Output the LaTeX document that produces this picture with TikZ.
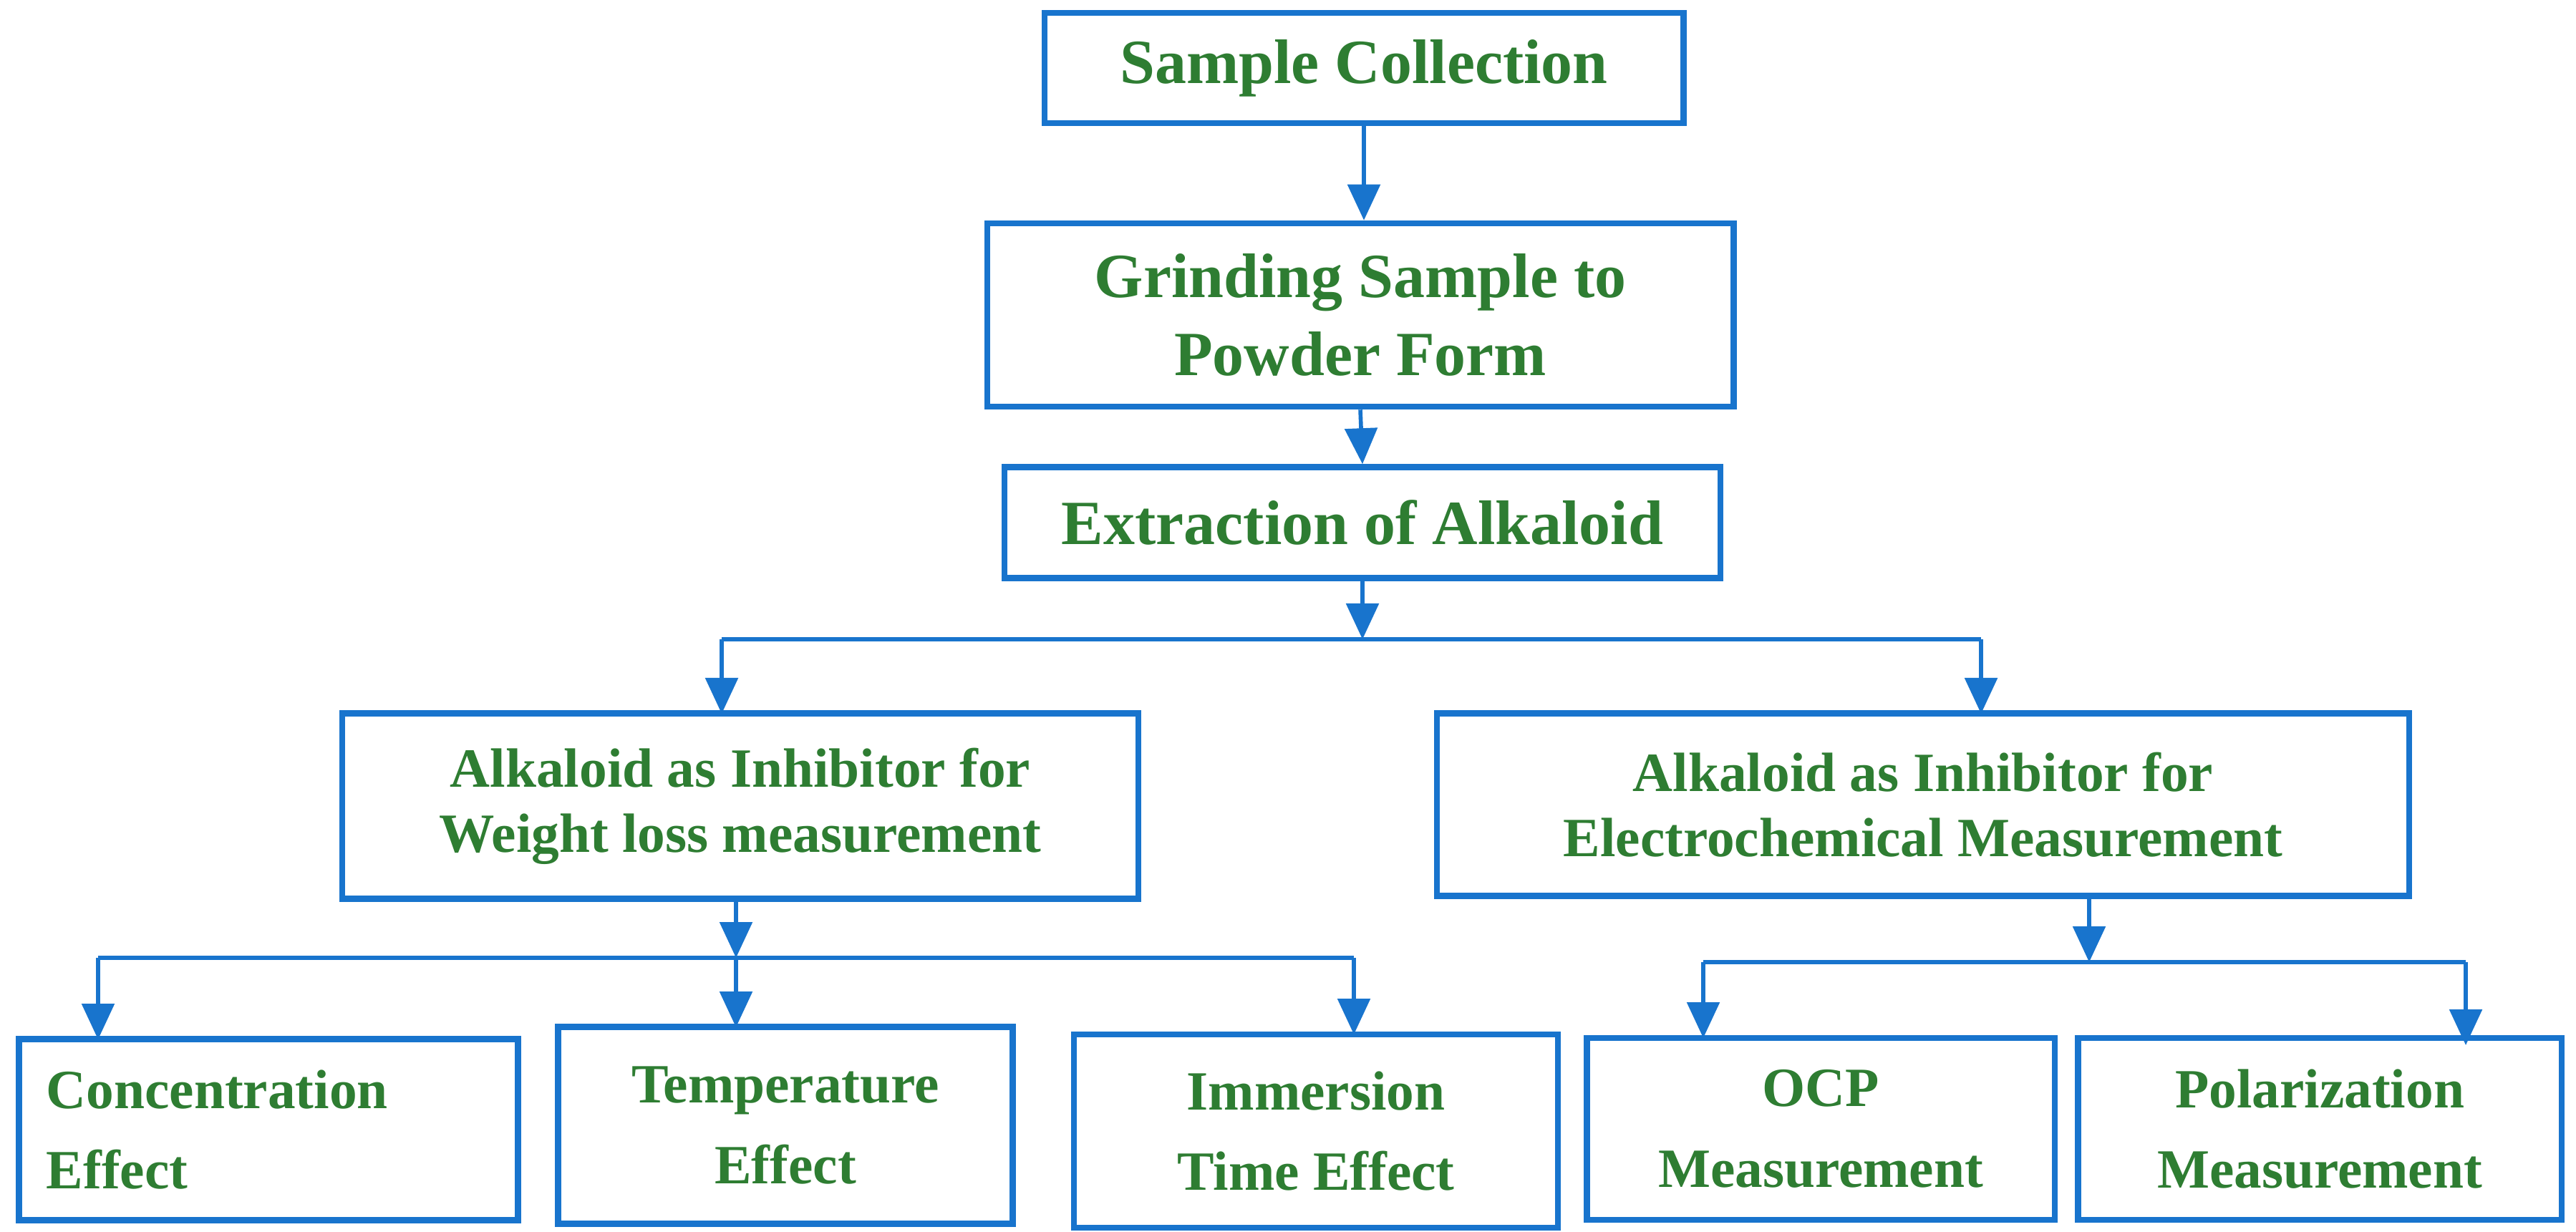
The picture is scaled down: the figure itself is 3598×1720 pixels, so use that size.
\documentclass[tikz,border=0pt]{standalone}
\usepackage{fontspec}
\setmainfont{Liberation Serif}
\usetikzlibrary{arrows.meta}
\definecolor{bl}{RGB}{24,116,205}
\definecolor{gr}{RGB}{46,125,50}
\begin{document}
\begin{tikzpicture}[x=0.01cm,y=-0.01cm,
  box/.style={draw=bl,line width=2.4pt,inner sep=0pt,text=gr,align=center},
  big/.style={font=\fontsize{25}{31}\selectfont\bfseries},
  sm/.style={font=\fontsize{22}{26}\selectfont\bfseries},
  bt/.style={font=\fontsize{22}{28}\selectfont\bfseries},
  ar/.style={draw=bl,line width=1.6pt,-{Triangle[length=0.5cm,width=0.45cm]}},
  ln/.style={draw=bl,line width=1.6pt}]
\useasboundingbox (0,0) rectangle (3598,1720);
\node[box,big,minimum width=8.92cm,minimum height=1.54cm] (sc) at (1905,95) {Sample Collection};
\node[box,big,minimum width=10.42cm,minimum height=2.56cm] (gr) at (1900,440) {Grinding Sample to\\Powder Form};
\node[box,big,minimum width=9.99cm,minimum height=1.55cm] (ex) at (1903,730) {Extraction of Alkaloid};
\node[box,sm,minimum width=11.11cm,minimum height=2.59cm] (wl) at (1034,1126) {Alkaloid as Inhibitor for\\Weight loss measurement};
\node[box,sm,minimum width=13.57cm,minimum height=2.55cm] (ec) at (2686,1124) {Alkaloid as Inhibitor for\\Electrochemical Measurement};
\node[box,bt,minimum width=6.97cm,minimum height=2.53cm,align=left,text width=6.2cm] (ce) at (375,1578) {Concentration\\[4pt]Effect};
\node[box,bt,minimum width=6.35cm,minimum height=2.75cm] (te) at (1097,1572) {Temperature\\[4pt]Effect};
\node[box,bt,minimum width=6.76cm,minimum height=2.70cm] (im) at (1838,1580) {Immersion\\[4pt]Time Effect};
\node[box,bt,minimum width=6.53cm,minimum height=2.54cm] (oc) at (2543,1577) {OCP\\[4pt]Measurement};
\node[box,bt,minimum width=6.75cm,minimum height=2.54cm] (po) at (3240,1577) {Polarization\\[4pt]Measurement};
\coordinate (j1) at (1903,893);
\coordinate (j2) at (1028,1338);
\coordinate (j3) at (2918,1344);
\draw[ar] (sc.south) -- (sc.south |- gr.north);
\draw[ar] (gr.south) -- (ex.north);
\draw[ar] (ex.south) -- (j1);
\draw[ln] (1008,893) -- (2767,893);
\draw[ar] (1008,893) -- (1008,997);
\draw[ar] (2767,893) -- (2767,997);
\draw[ar] (wl.south -| j2) -- (j2);
\draw[ln] (137,1338) -- (1891,1338);
\draw[ar] (137,1338) -- (137,1452);
\draw[ar] (j2) -- (1028,1435);
\draw[ar] (1891,1338) -- (1891,1445);
\draw[ar] (ec.south -| j3) -- (j3);
\draw[ln] (2379,1344) -- (3444,1344);
\draw[ar] (2379,1344) -- (2379,1450);
\draw[ar] (3444,1344) -- (3444,1460);
\end{tikzpicture}
\end{document}
